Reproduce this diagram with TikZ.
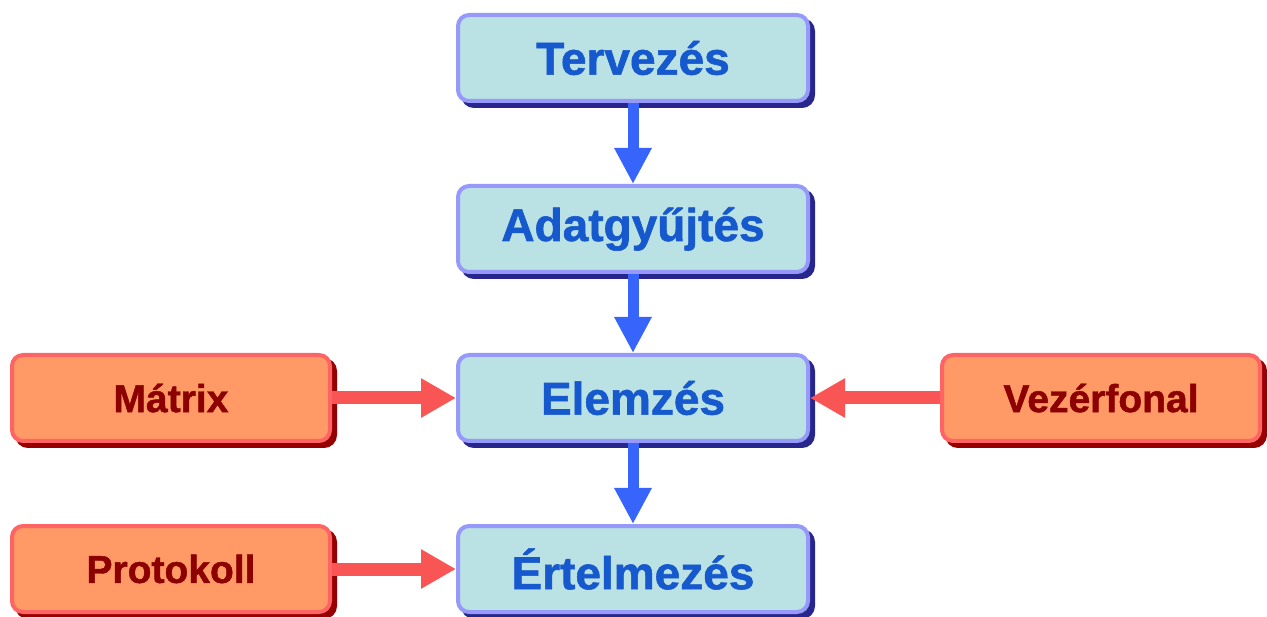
\documentclass[tikz,border=0pt]{standalone}
\usepackage{fontspec}
\setmainfont{Liberation Sans}[BoldFeatures={FakeBold=1.2}]
\usetikzlibrary{arrows.meta}
\definecolor{bface}{RGB}{186,225,227}
\definecolor{bedge}{RGB}{150,152,250}
\definecolor{bshadow}{RGB}{38,38,140}
\definecolor{btext}{RGB}{22,88,205}
\definecolor{barrow}{RGB}{55,100,250}
\definecolor{oface}{RGB}{255,153,102}
\definecolor{oedge}{RGB}{255,100,100}
\definecolor{oshadow}{RGB}{150,0,0}
\definecolor{otext}{RGB}{140,0,0}
\definecolor{oarrow}{RGB}{250,85,85}
\tikzset{
  bluebox/.style={rounded corners=11pt, fill=bface, draw=bedge, line width=4pt,
    minimum width=350pt, minimum height=86pt, inner sep=0pt,
    font=\bfseries\fontsize{46}{50}\selectfont, text=btext,
    preaction={fill=bshadow, draw=bshadow, transform canvas={shift={(5pt,-5pt)}}}},
  orangebox/.style={rounded corners=11pt, fill=oface, draw=oedge, line width=4pt,
    minimum width=318pt, minimum height=86pt, inner sep=0pt,
    font=\bfseries\fontsize{39}{44}\selectfont, text=otext,
    preaction={fill=oshadow, draw=oshadow, transform canvas={shift={(5pt,-5pt)}}}},
  bluearrow/.style={draw=barrow, line width=11pt, -{Triangle[width=35pt,length=36pt]}},
  redarrow/.style={draw=oarrow, line width=13pt, -{Triangle[width=37pt,length=35pt]}}
}
\begin{document}
\begin{tikzpicture}[x=1pt,y=-1pt]
\useasboundingbox (0,0) rectangle (1267,617);
\node[bluebox] (terv) at (633,58) {Tervezés};
\node[bluebox] (adat) at (633,229) {Adatgyűjtés};
\node[bluebox] (elem) at (633,398) {Elemzés};
\node[bluebox] (ert) at (633,569) {Értelmezés};
\node[orangebox] (matrix) at (171,398) {Mátrix};
\node[orangebox] (prot) at (171,569) {Protokoll};
\node[orangebox] (vez) at (1101,398) {Vezérfonal};
\draw[bluearrow] (terv.south) -- (adat.north);
\draw[bluearrow] (adat.south) -- (elem.north);
\draw[bluearrow] (elem.south) -- (ert.north);
\draw[redarrow] (matrix.east) -- (elem.west);
\draw[redarrow] (prot.east) -- (ert.west);
\draw[redarrow] (vez.west) -- (elem.east);
\end{tikzpicture}
\end{document}
